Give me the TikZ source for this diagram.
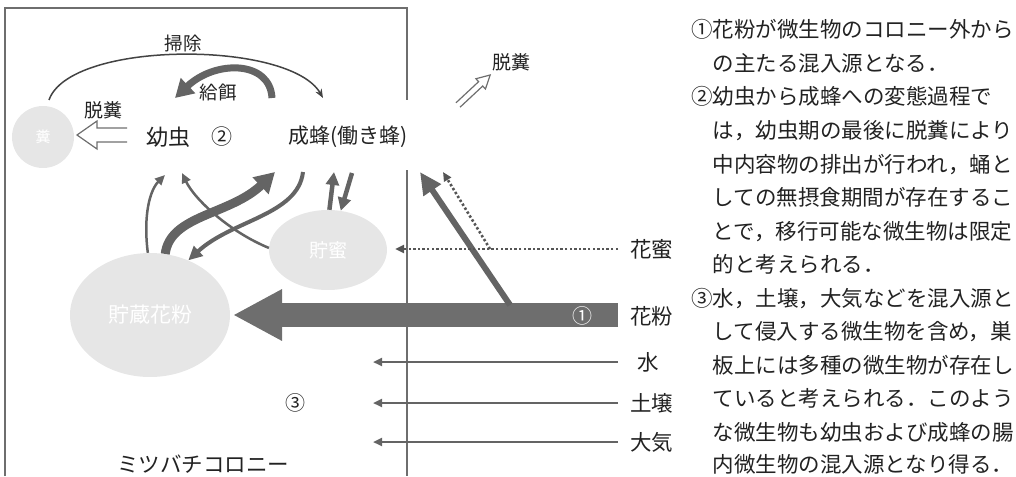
\documentclass[tikz,border=0pt]{standalone}
\usepackage{fontspec}
\setmainfont{Noto Sans CJK JP}
\usetikzlibrary{arrows.meta,shapes.geometric}
\newcommand\jsz[1]{\fontsize{#1}{#1}\selectfont}
\definecolor{ink}{HTML}{222222}
\definecolor{arr}{HTML}{646464}
\definecolor{frm}{HTML}{6E6E6E}
\definecolor{blob}{HTML}{E6E6E6}
\definecolor{bigarr}{HTML}{6E6E6E}
\begin{document}
\begin{tikzpicture}[x=1pt,y=-1pt,
  lbl/.style={text=ink,inner sep=0pt},
  blobshape/.style={ellipse,fill=blob,draw=none,inner sep=0pt,text=white},
  framestyle/.style={draw=frm,line width=1.4pt},
  thinarr/.style={draw=arr,line width=2.2pt,-{Triangle[length=9pt,width=8pt]}},
  dotarr/.style={draw=arr!85!black,line width=2.6pt,dash pattern=on 2.4pt off 2.2pt,-{Triangle[length=9pt,width=8pt]}},
  hollow/.style={draw=frm,line width=1.2pt,line join=miter},
  txtline/.style={text=ink,inner sep=0pt,anchor=base west,font=\jsz{21.5}}
]
\useasboundingbox (0,0) rectangle (1016,476);
% colony frame
\draw[framestyle] (5,476) -- (5,8) -- (407,8) -- (407,100);
\draw[framestyle] (407,170) -- (407,476);

% blobs
\node[blobshape,minimum width=62pt,minimum height=62pt] (feces) at (43,137) {\jsz{15}糞};
\node[blobshape,minimum width=118pt,minimum height=80pt] (honey) at (328,250) {\jsz{19}貯蜜};
\node[blobshape,minimum width=160pt,minimum height=124pt] (pollen) at (150,315) {\jsz{21}貯蔵花粉};

% labels in colony
\node[lbl] (larva) at (168,137) {\jsz{22}幼虫};
\node[lbl] (n2) at (222,137) {\jsz{21}②};
\node[lbl] (adult) at (348,137) {\jsz{21}成蜂(働き蜂)};
\node[lbl] (soji) at (183,43) {\jsz{18.5}掃除};
\node[lbl] (kyuji) at (218,92) {\jsz{18.5}給餌};
\node[lbl] (dap1) at (103,110) {\jsz{19}脱糞};
\node[lbl] (dap2) at (511,62) {\jsz{19}脱糞};
\node[lbl] (n3) at (295,403) {\jsz{20}③};
\node[lbl] (colony) at (203,464) {\jsz{21.5}ミツバチコロニー};

% source labels
\node[lbl,anchor=west] (lnectar) at (630,249) {\jsz{21.5}花蜜};
\node[lbl,anchor=west] (lpollen) at (630,316) {\jsz{21.5}花粉};
\node[lbl] (lwater) at (648,362) {\jsz{21.5}水};
\node[lbl,anchor=west] (lsoil) at (630,403) {\jsz{21.5}土壌};
\node[lbl,anchor=west] (lair) at (630,442) {\jsz{21.5}大気};

% coordinates
\coordinate (sNectar) at (618,249);
\coordinate (eNectar) at (395,249);
\coordinate (sPollen) at (618,315);
\coordinate (ePollen) at (233,315);
\coordinate (sWater) at (618,362);
\coordinate (eWater) at (373,362);
\coordinate (sSoil) at (618,403);
\coordinate (eSoil) at (373,403);
\coordinate (sAir) at (618,442);
\coordinate (eAir) at (373,442);
\coordinate (sDiag) at (510,305);
\coordinate (eDiag) at (420,172);
\coordinate (sDot) at (490,249);
\coordinate (eDot) at (443,172);
\coordinate (sSoji) at (49,100);
\coordinate (eSoji) at (323,98);
\coordinate (sKyu) at (272,98);
\coordinate (eKyu) at (175,98);
\coordinate (aA) at (165,175);
\coordinate (aB) at (182,173);
\coordinate (aC) at (275,172);
\coordinate (sD) at (303,172);
\coordinate (aE) at (334,172);
\coordinate (sF) at (352,173);

% big pollen arrow
\draw[bigarr,line width=24pt,-{Triangle[length=49pt,width=48pt]}] (sPollen) -- (ePollen);
\node[text=white,inner sep=0pt] (n1) at (582,316) {\jsz{20}①};
% diagonal arrows to adults
\draw[arr,line width=6pt,-{Triangle[length=22pt,width=20pt]}] (sDiag) -- (eDiag);
\draw[dotarr] (sDot) -- (eDot);
% source arrows
\draw[dotarr] (sNectar) -- (eNectar);
\draw[thinarr] (sWater) -- (eWater);
\draw[thinarr] (sSoil) -- (eSoil);
\draw[thinarr] (sAir) -- (eAir);

% cleaning arc
\draw[draw=ink!85,line width=1.5pt,-{Stealth[length=9pt,width=7pt]}] (sSoji) .. controls (70,40) and (290,40) .. (eSoji);
% feeding arc
\draw[arr,line width=7pt,-{Triangle[length=18pt,width=20pt]}] (sKyu) .. controls (270,60) and (215,60) .. (eKyu);

% arrows inside colony
\draw[arr,line width=2.5pt,-{Triangle[length=10pt,width=9pt]}] (pollen.92) .. controls (143,215) and (150,190) .. (aA);
\draw[arr,line width=2.5pt,-{Triangle[length=10pt,width=9pt]}] (honey.178) .. controls (230,232) and (195,200) .. (aB);
\draw[arr,line width=9pt,-{Triangle[length=20pt,width=22pt]}] (pollen.76) .. controls (170,215) and (230,215) .. (aC);
\draw[arr,line width=4pt,-{Triangle[length=14pt,width=13pt]}] (sD) .. controls (298,215) and (232,220) .. (pollen.55);
\draw[arr,line width=4.5pt,-{Triangle[length=13pt,width=13pt]}] (honey.88) -- (aE);
\draw[arr,line width=4.5pt,-{Triangle[length=13pt,width=13pt]}] (sF) -- (honey.72);

% hollow defecation arrows
\draw[hollow] (127,128) -- (97,128) -- (97,121) -- (77,135) -- (97,149) -- (97,142) -- (127,142);
\begin{scope}[shift={(458,105)},rotate=43]
\draw[hollow] (0,-3) -- (31,-3) -- (31,-7) -- (44,0) -- (31,7) -- (31,3) -- (0,3);
\end{scope}

% explanatory text
\node[txtline] (t1) at (691,38) {①花粉が微生物のコロニー外から};
\node[txtline] (t2) at (712.5,71.5) {の主たる混入源となる．};
\node[txtline] (t3) at (691,105) {②幼虫から成蜂への変態過程で};
\node[txtline] (t4) at (712.5,138.5) {は，幼虫期の最後に脱糞により};
\node[txtline] (t5) at (712.5,172) {中内容物の排出が行われ，蛹と};
\node[txtline] (t6) at (712.5,205.5) {しての無摂食期間が存在するこ};
\node[txtline] (t7) at (712.5,239) {とで，移行可能な微生物は限定};
\node[txtline] (t8) at (712.5,272.5) {的と考えられる．};
\node[txtline] (t9) at (691,306) {③水，土壌，大気などを混入源と};
\node[txtline] (t10) at (712.5,339.5) {して侵入する微生物を含め，巣};
\node[txtline] (t11) at (712.5,373) {板上には多種の微生物が存在し};
\node[txtline] (t12) at (712.5,406.5) {ていると考えられる．このよう};
\node[txtline] (t13) at (712.5,440) {な微生物も幼虫および成蜂の腸};
\node[txtline] (t14) at (712.5,472.5) {内微生物の混入源となり得る．};
\end{tikzpicture}
\end{document}
